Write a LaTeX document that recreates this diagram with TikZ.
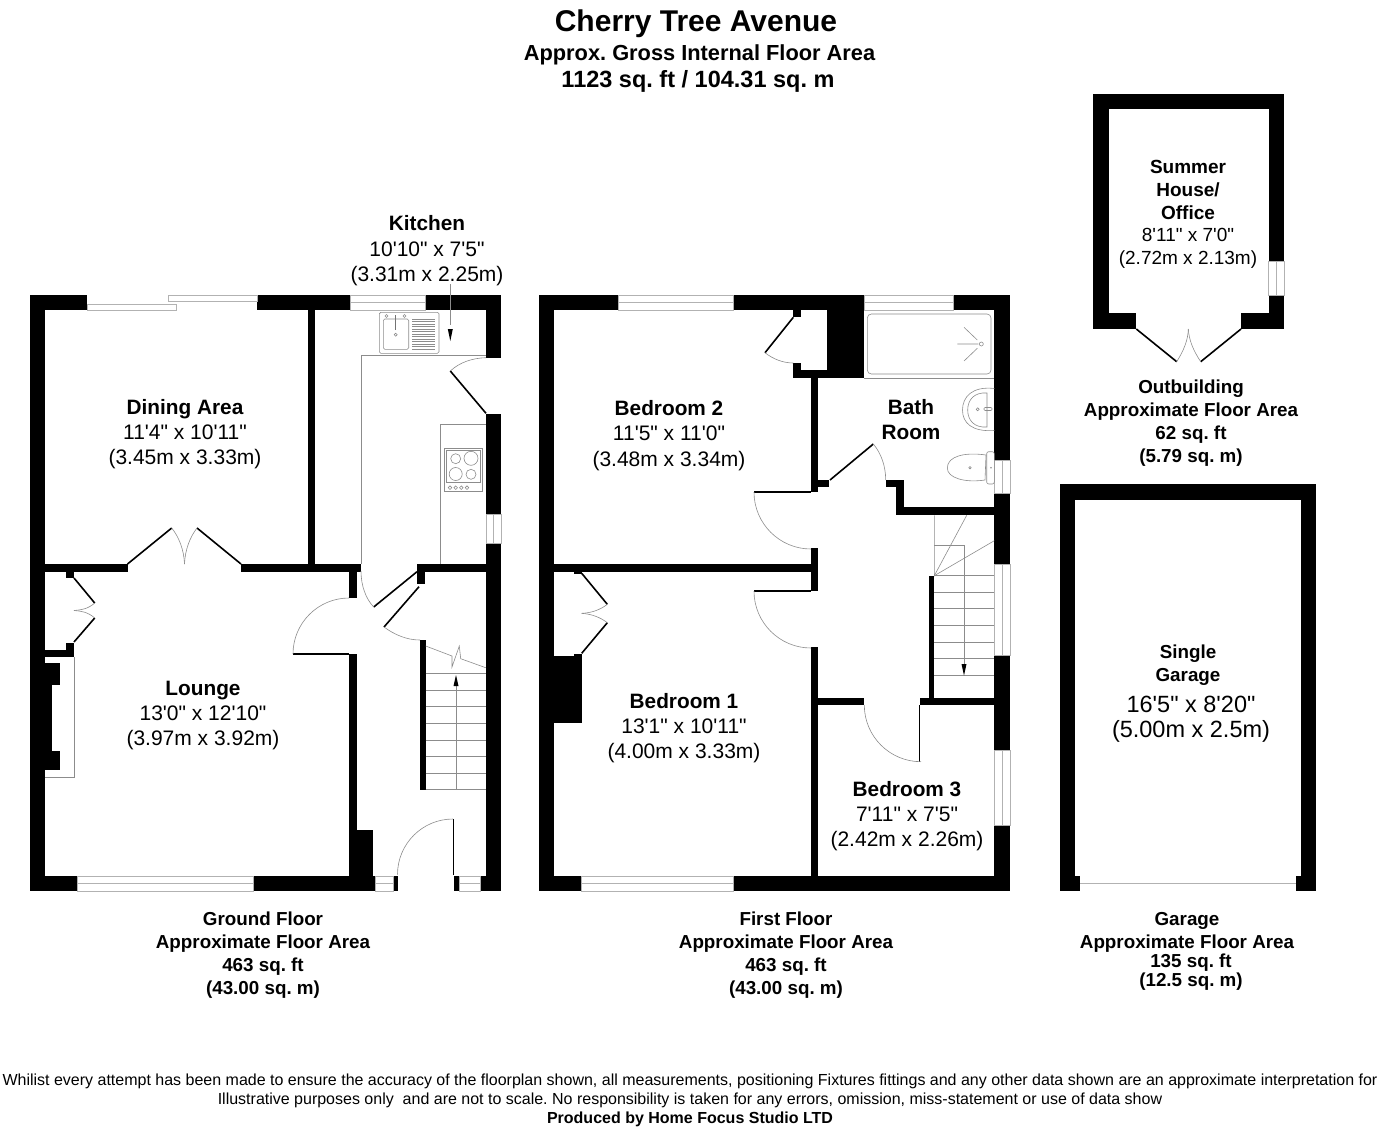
\documentclass[tikz,border=0pt]{standalone}
\usepackage{fontspec}
\setmainfont{Liberation Sans}
\newfontfamily\planfont{Liberation Sans}
\begin{document}
\frenchspacing
\begin{tikzpicture}[x=1pt,y=-1pt,
    wall/.style={fill=black,draw=none},
    leaf/.style={draw=black,line width=1.6pt},
    fine/.style={draw=black!45,line width=0.6pt},
    glass/.style={draw=black!30,line width=0.6pt},
    roomname/.style={font=\planfont\fontsize{20.8}{25}\selectfont\bfseries,align=center},
    roomsize/.style={font=\planfont\fontsize{21}{25.5}\selectfont,align=center},
    caption/.style={font=\planfont\fontsize{18.8}{23}\selectfont\bfseries,align=center}]
  \useasboundingbox (0,0) rectangle (1384,1128);
  % ground floor
  \foreach \xa/\ya/\xb/\yb in {30/295/45/891, 30/295/87/310, 257/295/350.5/310, 425/295/501/310,
      486/295/501/357.7, 486/414/501/514, 486/543.5/501/891, 308/310/315/564,
      45/564/127.5/571.7, 241/564/361/571.7, 417/564/486/571.7, 66.3/571/74/578, 66.3/643/74/651, 45/650/74/657,
      45/663/60.3/685, 45/685/52.3/751, 45/751/60.3/770.3,
      349/571/356.7/598, 349/654/356.7/876, 349/830/373.3/876, 417/571/425/584, 420/640/425.7/789.7,
      30/876/77.3/891, 253/876/375.7/891, 393/876/397.7/891, 454/876/459/891, 480/876/501/891}
    \fill[wall] (\xa,\ya) rectangle (\xb,\yb);
  \draw[glass] (87,304) rectangle (176,310);
  \draw[glass] (168.5,295) rectangle (257,301);
  \draw[glass] (350.5,295) rectangle (425,310) (350.5,302.5) -- (425,302.5);
  \foreach \xa/\xb in {77.3/253, 375.7/393, 459/480}
    \draw[glass] (\xa,876) rectangle (\xb,891) (\xa,883.5) -- (\xb,883.5);
  \draw[glass] (486,514) rectangle (501,543.5) (493.5,514) -- (493.5,543.5);
  \draw[leaf] (127.5,564) -- (171.7,528) (241,564) -- (197,528);
  \draw[fine] (171.7,528) .. controls (179,537) and (184,550) .. (184.5,564);
  \draw[fine] (197,528) .. controls (190,537) and (185,550) .. (184.5,564);
  \draw[leaf] (74,578) -- (94.7,603) (74,642) -- (94.7,618);
  \draw[fine] (94.7,603) .. controls (88,609) and (81,610) .. (74,610.5);
  \draw[fine] (94.7,618) .. controls (88,612) and (81,611) .. (74,610.5);
  \draw[fine] (74,657) -- (74,777.3) -- (45,777.3);
  \draw[leaf] (293,654) -- (349,654);
  \draw[fine] (293,654) arc[start angle=180,end angle=270,radius=56];
  \draw[leaf] (417,571.7) -- (373.7,607) (419,586.7) -- (384,627);
  \draw[fine] (373.7,607) .. controls (366,599) and (361,586) .. (361,571);
  \draw[fine] (384,627) .. controls (395,635) and (407,640) .. (420,640);
  \draw[leaf] (453.3,819) -- (453.3,875);
  \draw[fine] (453,819) arc[start angle=270,end angle=180,radius=55.5];
  \draw[leaf] (486,413.3) -- (450.3,371);
  \draw[fine] (450.3,371) .. controls (460,362) and (473,358) .. (486,357.7);
  % kitchen units
  \draw[fine] (361,564) -- (361,355) -- (486,355);
  \draw[fine] (440.7,564) -- (440.7,424.7) -- (486,424.7);
  \draw[fine,rounded corners=1.5pt] (379.3,312.3) rectangle (439,353.3);
  \draw[fine,rounded corners=1.5pt] (383.3,319) rectangle (408.7,349.3);
  \foreach \y in {319,321.5,...,349}
    \draw[fine] (412.3,\y) -- (435.3,\y);
  \draw[draw=black!55,line width=1.4pt] (395.7,315) -- (395.7,330);
  \draw[fine] (395.7,334.7) circle (1.5) (386.5,316) circle (1.5) (404.5,316) circle (1.5);
  \draw[fine] (444.3,448) rectangle (482.3,491.7) (446.7,450) rectangle (480,482.7);
  \draw[fine] (455.7,458.7) circle (5) (471,458.3) circle (7) (455.7,474) circle (6.5) (471,474.3) circle (5);
  \foreach \x in {450,455.7,461.3,467}
    \draw[fine] (\x,487.7) circle (1.8);
  % ground floor stairs
  \foreach \y in {673.3,690,706.7,723.3,740,756.7,773.3,789.7}
    \draw[fine] (425.7,\y) -- (485.7,\y);
  \draw[fine] (425.7,646) -- (452,656) -- (452,667) -- (459.3,646) -- (460.7,658.7) -- (485.7,667.7);
  \draw[fine] (456,789.7) -- (456,685);
  \fill (456,675) -- (458.5,686) -- (453.5,686) -- cycle;
  \draw[fine] (450.3,284) -- (450.3,325);
  \fill (450.3,341) -- (452.8,329) -- (447.8,329) -- cycle;
  % first floor
  \foreach \xa/\ya/\xb/\yb in {538.5/295/553.7/891, 538.5/295/618.7/310, 733.3/295/864/310, 953.7/295/1010/310,
      994.3/295/1010/460.3, 994.3/493.3/1010/564.3, 994.3/655/1010/750, 994.3/825/1010/891,
      827/295/864/377.7, 793.3/370/827/377.7, 793.3/363/800.7/377.7, 793.3/310/800.7/317.3,
      811/377/818/492, 811/480/829/487.3, 885.7/480/903.7/487.3, 896/480/903.7/515.3, 896/507.3/994.3/515.3,
      811/548.3/818/591, 553.7/563.7/811/571.7, 574.3/571/581.7/573.5, 553.7/656/581.7/723.3, 574.3/653.7/581.7/656,
      811/647.3/818/876, 818/697.7/864.3/705, 920.3/697.7/994.3/705, 928.7/575.7/934.3/698,
      538.5/876/581.7/891, 733.3/876/1010/891}
    \fill[wall] (\xa,\ya) rectangle (\xb,\yb);
  \foreach \xa/\xb in {618.7/733.3, 864/953.7}
    \draw[glass] (\xa,295) rectangle (\xb,310) (\xa,302.5) -- (\xb,302.5);
  \draw[glass] (581.7,876) rectangle (733.3,891) (581.7,883.5) -- (733.3,883.5);
  \foreach \ya/\yb in {460.3/493.3, 564.3/655, 750/825}
    \draw[glass] (994.3,\ya) rectangle (1010,\yb) (1002,\ya) -- (1002,\yb);
  \draw[leaf] (793.3,317.3) -- (765,352.7);
  \draw[fine] (765,352.7) .. controls (773,359) and (783,363) .. (793.3,363);
  \draw[leaf] (830,480) -- (873.3,444);
  \draw[fine] (873.3,444) .. controls (881,453) and (885.7,466) .. (885.7,480);
  \draw[leaf] (754,492) -- (811,492);
  \draw[fine] (754,492) arc[start angle=180,end angle=90,radius=57];
  \draw[leaf] (754,591) -- (811,591);
  \draw[fine] (754,591) arc[start angle=180,end angle=90,radius=57];
  \draw[leaf] (581.7,573.3) -- (607.3,604.3) (607.3,622.7) -- (581.7,653.3);
  \draw[fine] (607.3,604.3) .. controls (600,610) and (591,613) .. (581.7,613.3);
  \draw[fine] (607.3,622.7) .. controls (600,617) and (591,614) .. (581.7,613.3);
  \draw[leaf] (919.5,705) -- (919.5,761.7);
  \draw[fine] (864.3,705) arc[start angle=180,end angle=90,radius=56.7];
  % first floor stairs
  \foreach \y in {575.7,592.3,608.7,625.3,642,658.7,675.3}
    \draw[fine] (934.3,\y) -- (994.3,\y);
  \draw[fine] (934.3,515.3) -- (934.3,575.7) -- (966.7,515.3);
  \draw[fine] (934.3,575.7) -- (994.3,540.7);
  \draw[fine] (934.3,545) -- (964,545) -- (964,664);
  \fill (964,675.5) -- (966.5,664) -- (961.5,664) -- cycle;
  % bathroom fittings
  \draw[fine,rounded corners=4pt] (867.3,314) rectangle (991,374);
  \draw[fine] (864,378) -- (994.3,378);
  \draw[fine] (981.3,344) circle (2);
  \draw[fine] (978.3,344) -- (957.3,344) (977.3,340) -- (964,327.3) (977.3,348.3) -- (964,361);
  \draw[fine] (994.3,388.5) .. controls (972,386) and (962.5,397) .. (962.5,410) .. controls (962.5,423) and (972,432) .. (994.3,430.5);
  \draw[fine] (987,393) .. controls (974,392) and (967.7,400) .. (967.7,410) .. controls (967.7,420) and (974,428) .. (987,427) -- cycle;
  \draw[fine] (977.7,409.3) circle (1.5);
  \draw[fine,rounded corners=1pt] (984,407.5) rectangle (992,410.5);
  \draw[fine,rounded corners=2pt] (986.7,451.7) rectangle (994.3,484);
  \draw[fine] (986,455) .. controls (965,452) and (947.3,456) .. (947.3,468) .. controls (947.3,478) and (965,483) .. (985,480) -- cycle;
  \draw[fine] (970,467.7) circle (1.2) (991,467.7) circle (0.5);
  % outbuilding
  \foreach \xa/\ya/\xb/\yb in {1093.3/94.3/1108.7/329, 1093.3/94.3/1284/109.3, 1268.7/94.3/1284/261.7, 1268.7/295/1284/329,
      1093.3/313.3/1136.3/329, 1241/313.3/1284/329}
    \fill[wall] (\xa,\ya) rectangle (\xb,\yb);
  \draw[glass] (1268.7,261.7) rectangle (1284,295) (1276.3,261.7) -- (1276.3,295);
  \draw[leaf] (1136.3,329) -- (1176.7,361.7) (1241,329) -- (1200.7,361.7);
  \draw[fine] (1176.7,361.7) .. controls (1184,350) and (1188,340) .. (1188.3,329);
  \draw[fine] (1200.7,361.7) .. controls (1193,350) and (1189,340) .. (1188.3,329);
  % garage
  \foreach \xa/\ya/\xb/\yb in {1060/484.3/1075.3/891, 1060/484.3/1316/500, 1300.7/484.3/1316/891, 1060/875.7/1080.3/891, 1296/875.7/1316/891}
    \fill[wall] (\xa,\ya) rectangle (\xb,\yb);
  \draw[glass] (1080.3,883) -- (1296,883);
  % texts
  \node[font=\planfont\fontsize{30}{35}\selectfont\bfseries] (title) at (696,24) {Cherry Tree Avenue};
  \node[font=\planfont\fontsize{21.8}{26}\selectfont\bfseries] (subtitle) at (699.5,54.5) {Approx. Gross Internal Floor Area};
  \node[font=\planfont\fontsize{23.5}{28}\selectfont\bfseries] (totalarea) at (698,81.5) {1123 sq. ft / 104.31 sq. m};
  \node[roomname] (dining) at (185,409) {Dining Area};
  \node[roomsize] (diningsize) at (185,447) {11'4" x 10'11"\\(3.45m x 3.33m)};
  \node[roomname] (kitchen) at (427,223) {Kitchen};
  \node[roomsize] (kitchensize) at (427,264) {10'10" x 7'5"\\(3.31m x 2.25m)};
  \node[roomname] (lounge) at (203,691) {Lounge};
  \node[roomsize] (loungesize) at (203,728) {13'0" x 12'10"\\(3.97m x 3.92m)};
  \node[roomname] (bedtwo) at (669,408) {Bedroom 2};
  \node[roomsize] (bedtwosize) at (669,448.5) {11'5" x 11'0"\\(3.48m x 3.34m)};
  \node[roomname] (bath) at (911,419.5) {Bath\\Room};
  \node[roomname] (bedone) at (684,701) {Bedroom 1};
  \node[roomsize] (bedonesize) at (684,741) {13'1" x 10'11"\\(4.00m x 3.33m)};
  \node[roomname] (bedthree) at (907,789) {Bedroom 3};
  \node[roomsize] (bedthreesize) at (907,829) {7'11" x 7'5"\\(2.42m x 2.26m)};
  \node[font=\planfont\fontsize{19}{23}\selectfont\bfseries,align=center] (summer) at (1188,189.5) {Summer\\House/\\Office};
  \node[font=\planfont\fontsize{19}{23}\selectfont,align=center] (summersize) at (1188,248.5) {8'11" x 7'0"\\(2.72m x 2.13m)};
  \node[font=\planfont\fontsize{18.8}{23}\selectfont\bfseries,align=center] (single) at (1188,665.5) {Single\\Garage};
  \node[font=\planfont\fontsize{23.5}{25.5}\selectfont,align=center] (singlesize) at (1191,719) {16'5" x 8'20"\\(5.00m x 2.5m)};
  \node[caption] (ground) at (263,955.5) {Ground Floor\\Approximate Floor Area\\463 sq. ft\\(43.00 sq. m)};
  \node[caption] (first) at (786,955.5) {First Floor\\Approximate Floor Area\\463 sq. ft\\(43.00 sq. m)};
  \node[caption] (outbuilding) at (1191,423) {Outbuilding\\Approximate Floor Area\\62 sq. ft\\(5.79 sq. m)};
  \node[caption] (garage) at (1187,932) {Garage\\Approximate Floor Area};
  \node[font=\planfont\fontsize{18.8}{19}\selectfont\bfseries,align=center] (garagearea) at (1191,972) {135 sq. ft\\(12.5 sq. m)};
  \node[font=\planfont\fontsize{16}{19.2}\selectfont,align=center] (notice) at (690,1090.5) {Whilist every attempt has been made to ensure the accuracy of the floorplan shown, all measurements, positioning Fixtures fittings and any other data shown are an approximate interpretation for\\Illustrative purposes only \ and are not to scale. No responsibility is taken for any errors, omission, miss-statement or use of data show};
  \node[font=\planfont\fontsize{16}{19}\selectfont\bfseries] (producer) at (690,1119.5) {Produced by Home Focus Studio LTD};
\end{tikzpicture}
\end{document}
